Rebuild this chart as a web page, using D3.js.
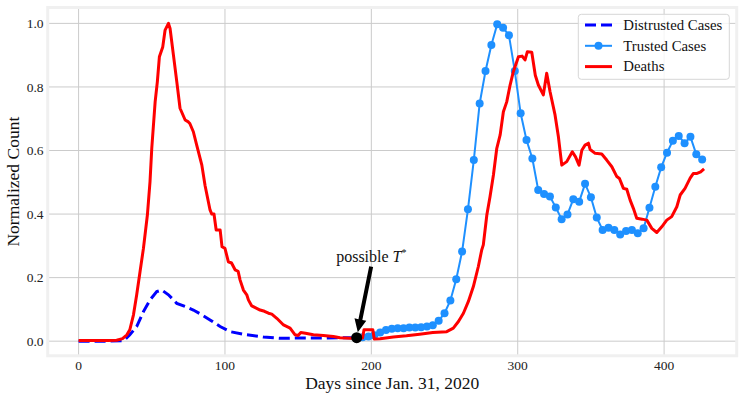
<!DOCTYPE html>
<html>
<head>
<meta charset="utf-8">
<script src="https://cdn.jsdelivr.net/npm/d3@7"></script>
<style>
  body { margin: 0; background: #fff; }
  svg { display: block; font-family: "Liberation Serif", "Times New Roman", serif; }
</style>
</head>
<body>
<svg width="743" height="399"></svg>
<script>
// Distrusted cases (dashed blue), day -> normalized count
const distrustDays = [0, 10, 20, 31, 35, 39.7, 44.3, 48.8, 53.4, 56.8, 61.4, 67.1, 72.8, 78.4, 84.2, 89.8, 96.7, 103.5, 114.9, 126.2, 137.7, 149, 165, 183, 190];
const distrustVals = [0, 0, 0, 0.002, 0.02, 0.046, 0.093, 0.13, 0.156, 0.161, 0.146, 0.119, 0.109, 0.098, 0.083, 0.067, 0.046, 0.03, 0.02, 0.013, 0.009, 0.01, 0.01, 0.011, 0.011];

// Trusted cases (markers)
const trustDays = [190, 194, 198, 202, 206, 210, 214, 218, 222, 226, 230, 234, 238, 242, 246, 250, 254, 258, 262, 266,
  270, 274, 278, 282, 286, 290, 294, 298, 302, 306, 310, 314, 318, 322, 326, 330, 334, 338, 342, 346,
  350, 354, 358, 362, 366, 370, 374, 378, 382, 386, 390, 394, 398, 402, 406, 410, 414, 418, 422, 426];
const trustVals = [0.011, 0.012, 0.015, 0.019, 0.027, 0.035, 0.039, 0.041, 0.041, 0.043, 0.043, 0.044, 0.046, 0.05, 0.064, 0.088, 0.128, 0.195, 0.282, 0.415,
  0.57, 0.748, 0.85, 0.932, 0.997, 0.986, 0.963, 0.85, 0.717, 0.633, 0.575, 0.476, 0.463, 0.455, 0.421, 0.384, 0.399, 0.447, 0.439, 0.495,
  0.453, 0.389, 0.35, 0.357, 0.35, 0.336, 0.347, 0.35, 0.34, 0.355, 0.42, 0.486, 0.547, 0.593, 0.631, 0.646, 0.623, 0.643, 0.588, 0.572];

// Deaths (red)
const deathDays = [0, 10, 20, 26, 30, 33, 35, 37.5, 39.7, 42, 44.3, 47, 48.8, 50, 52.3, 53.8, 55.2, 57.5, 59.1, 61.4,
  62.5, 64.8, 67.1, 69.3, 72.8, 75, 76, 78.4, 80.7, 84.2, 86.4, 89.8, 91, 92.5, 94, 96.7, 98, 100, 102.3, 104.5,
  107, 109, 110.3, 112.6, 114.9, 116, 118.3, 121, 124, 127, 129.7, 132, 135.4, 140, 144.5, 147.9, 150, 151.8, 155, 160.4,
  167.2, 174, 178.6, 185.5, 189.5, 194, 195, 201, 202, 206, 215, 224, 233, 242, 251.5, 256, 259.5, 262.9, 266.3, 269.7,
  273.1, 275.4, 276.5, 278.9, 281.1, 283.4, 285.7, 288, 290.2, 292.5, 294.8, 297, 300.5, 303, 305, 306.6, 309.6, 312, 314.1, 317.5,
  319.8, 322.1, 325.5, 327.8, 330.1, 333.5, 337.3, 339.5, 341.9, 343.8, 346, 348.3, 349.5, 352.9, 357.4, 360.8, 364.3, 367.7, 369.5, 372.2,
  374.5, 376.8, 379, 381.3, 385, 388.2, 391.6, 395, 398.4, 401.8, 405.2, 408.7, 411, 414.3, 417.8, 420, 422.5, 425, 427.3];
const deathVals = [0.002, 0.002, 0.002, 0.003, 0.008, 0.02, 0.036, 0.083, 0.146, 0.219, 0.292, 0.397, 0.502, 0.607, 0.753, 0.816, 0.895, 0.926, 0.979, 1.0,
  0.984, 0.9, 0.816, 0.733, 0.696, 0.69, 0.685, 0.659, 0.617, 0.554, 0.49, 0.413, 0.4, 0.4, 0.35, 0.35, 0.297, 0.292, 0.25, 0.246,
  0.224, 0.22, 0.193, 0.161, 0.146, 0.13, 0.111, 0.105, 0.098, 0.094, 0.088, 0.085, 0.072, 0.051, 0.041, 0.02, 0.018, 0.027, 0.025, 0.02,
  0.018, 0.015, 0.011, 0.009, 0.009, 0.01, 0.036, 0.036, 0.007, 0.008, 0.013, 0.017, 0.022, 0.027, 0.03, 0.041, 0.062, 0.088, 0.125, 0.172,
  0.235, 0.287, 0.303, 0.397, 0.455, 0.523, 0.607, 0.649, 0.722, 0.753, 0.806, 0.848, 0.895, 0.897, 0.885, 0.911, 0.909, 0.837, 0.806, 0.775,
  0.843, 0.785, 0.712, 0.643, 0.554, 0.565, 0.596, 0.58, 0.554, 0.601, 0.617, 0.623, 0.603, 0.591, 0.589, 0.57, 0.549, 0.518, 0.512, 0.481,
  0.478, 0.444, 0.418, 0.387, 0.384, 0.381, 0.355, 0.342, 0.36, 0.381, 0.392, 0.423, 0.46, 0.481, 0.513, 0.528, 0.528, 0.533, 0.542];

const xTicks = [0, 100, 200, 300, 400];
const yTicks = [0, 0.2, 0.4, 0.6, 0.8, 1.0];
const seriesNames = ["Distrusted Cases", "Trusted Cases", "Deaths"];
const tStar = [190, 0.011];
const tStarLabelPos = [200, 0.25];

const svg = d3.select("svg");
const box = { left: 47.7, right: 736.7, top: 7.5, bottom: 355.8 };

const x = d3.scaleLinear().domain([-21.1, 449.6]).range([box.left, box.right]);
const y = d3.scaleLinear().domain([-0.046, 1.05]).range([box.bottom, box.top]);

// axes background
svg.append("rect")
    .attr("x", box.left).attr("y", box.top)
    .attr("width", box.right - box.left).attr("height", box.bottom - box.top)
    .attr("fill", "#fff");

// grid
const grid = svg.append("g").attr("stroke", "#cbcbcb").attr("stroke-width", 1);
xTicks.forEach(t => grid.append("line")
    .attr("x1", x(t)).attr("x2", x(t)).attr("y1", box.top).attr("y2", box.bottom));
yTicks.forEach(t => grid.append("line")
    .attr("x1", box.left).attr("x2", box.right).attr("y1", y(t)).attr("y2", y(t)));

// tick labels
svg.append("g").selectAll("text").data(xTicks).join("text")
    .attr("x", d => x(d)).attr("y", 370)
    .attr("text-anchor", "middle").attr("font-size", 13.5).attr("fill", "#222")
    .text(d => d);
svg.append("g").selectAll("text").data(yTicks).join("text")
    .attr("x", 43.5).attr("y", d => y(d) + 4.6)
    .attr("text-anchor", "end").attr("font-size", 13.5).attr("fill", "#222")
    .text(d => d3.format(".1f")(d));

// axis labels
svg.append("text")
    .attr("x", (box.left + box.right) / 2).attr("y", 388.5)
    .attr("text-anchor", "middle").attr("font-size", 17.5).attr("fill", "#111")
    .text("Days since Jan. 31, 2020");
svg.append("text")
    .attr("transform", `translate(18.5,${(box.top + box.bottom) / 2}) rotate(-90)`)
    .attr("text-anchor", "middle").attr("font-size", 17.5).attr("fill", "#111")
    .text("Normalized Count");

const line = d3.line().x(d => x(d[0])).y(d => y(d[1]));
const zip = (a, b) => a.map((d, i) => [d, b[i]]);

// distrusted
svg.append("path")
    .datum(zip(distrustDays, distrustVals))
    .attr("d", line).attr("fill", "none")
    .attr("stroke", "#0000ff").attr("stroke-width", 3)
    .attr("stroke-dasharray", "11,5");

// trusted
const trust = zip(trustDays, trustVals);
svg.append("path")
    .datum(trust)
    .attr("d", line).attr("fill", "none")
    .attr("stroke", "#1e90ff").attr("stroke-width", 2);
svg.append("g").selectAll("circle").data(trust).join("circle")
    .attr("cx", d => x(d[0])).attr("cy", d => y(d[1])).attr("r", 4)
    .attr("fill", "#1e90ff");

// deaths
svg.append("path")
    .datum(zip(deathDays, deathVals))
    .attr("d", line).attr("fill", "none")
    .attr("stroke", "#ff0000").attr("stroke-width", 3)
    .attr("stroke-linejoin", "round");

// T* point and annotation
svg.append("circle")
    .attr("cx", x(tStar[0])).attr("cy", y(tStar[1])).attr("r", 5.5)
    .attr("fill", "#000");

const lbl = svg.append("text")
    .attr("x", x(tStarLabelPos[0])).attr("y", y(tStarLabelPos[1]))
    .attr("text-anchor", "middle").attr("font-size", 16).attr("fill", "#111");
lbl.append("tspan").text("possible ");
lbl.append("tspan").attr("font-style", "italic").text("T");
lbl.append("tspan").attr("font-size", 10).attr("dy", -6).text("*");

// arrow from label to T*
{
    const x0 = x(tStarLabelPos[0]), y0 = y(tStarLabelPos[1]) + 4;
    const x1 = x(tStar[0]), y1 = y(tStar[1]);
    const dx = x1 - x0, dy = y1 - y0, len = Math.hypot(dx, dy);
    const ux = dx / len, uy = dy / len, px = -uy, py = ux;
    const sx = x0 + ux * 1, sy = y0 + uy * 1;           // tail
    const tx = x1 - ux * 5.5, ty = y1 - uy * 5.5;       // tip
    const hl = 13, hw = 6, sw = 2;
    const bx = tx - ux * hl, by = ty - uy * hl;
    const pts = [
        [sx + px * sw, sy + py * sw], [bx + px * sw, by + py * sw], [bx + px * hw, by + py * hw],
        [tx, ty],
        [bx - px * hw, by - py * hw], [bx - px * sw, by - py * sw], [sx - px * sw, sy - py * sw]
    ];
    svg.append("polygon").attr("points", pts.map(p => p.join(",")).join(" ")).attr("fill", "#000");
}

// axes frame
svg.append("rect")
    .attr("x", box.left).attr("y", box.top)
    .attr("width", box.right - box.left).attr("height", box.bottom - box.top)
    .attr("fill", "none").attr("stroke", "#f0f0f0").attr("stroke-width", 3);

// legend
const leg = svg.append("g");
leg.append("rect")
    .attr("x", 578.3).attr("y", 14.3).attr("width", 151).attr("height", 65).attr("rx", 3)
    .attr("fill", "#fff").attr("fill-opacity", 0.8).attr("stroke", "#d6d6d6");
const rowY = [25, 45.8, 66.6];
const styles = [
    { c: "#0000ff", w: 3, dash: "11,5", m: false },
    { c: "#1e90ff", w: 2, dash: null, m: true },
    { c: "#ff0000", w: 3, dash: null, m: false }
];
seriesNames.forEach((name, i) => {
    const s = styles[i];
    leg.append("line")
        .attr("x1", 585).attr("x2", 612).attr("y1", rowY[i]).attr("y2", rowY[i])
        .attr("stroke", s.c).attr("stroke-width", s.w)
        .attr("stroke-dasharray", s.dash);
    if (s.m) leg.append("circle").attr("cx", 598.5).attr("cy", rowY[i]).attr("r", 4).attr("fill", s.c);
    leg.append("text").attr("x", 623.3).attr("y", rowY[i] + 4.8)
        .attr("font-size", 14.8).attr("fill", "#111").text(name);
});
</script>
</body>
</html>
